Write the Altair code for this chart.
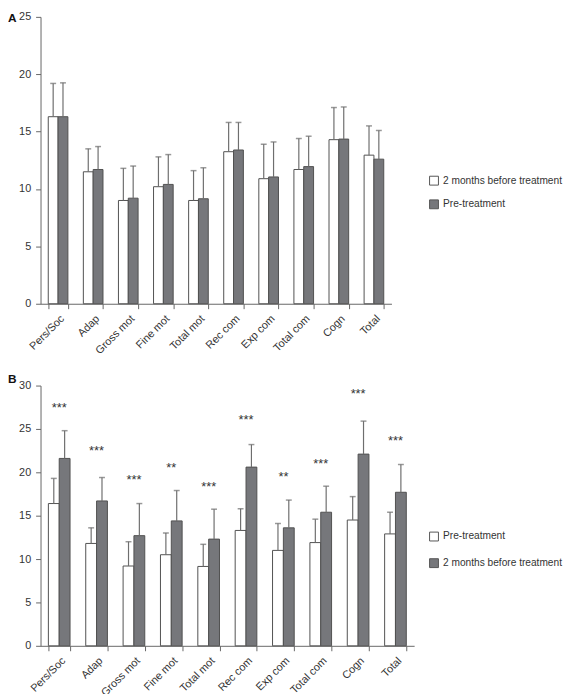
import altair as alt
import pandas as pd

categories = ["Pers/Soc", "Adap", "Gross mot", "Fine mot", "Total mot",
              "Rec com", "Exp com", "Total com", "Cogn", "Total"]

# Panel A
a_series = ["2 months before treatment", "Pre-treatment"]
a_first = [16.3, 11.5, 9.0, 10.2, 9.0, 13.25, 10.9, 11.7, 14.3, 12.95]
a_first_err = [19.2, 13.5, 11.8, 12.8, 11.6, 15.8, 13.9, 14.4, 17.1, 15.5]
a_second = [16.3, 11.7, 9.2, 10.4, 9.15, 13.4, 11.05, 11.95, 14.35, 12.6]
a_second_err = [19.25, 13.7, 12.0, 13.0, 11.85, 15.8, 14.1, 14.6, 17.15, 15.1]

# Panel B
b_series = ["Pre-treatment", "2 months before treatment"]
b_first = [16.4, 11.8, 9.2, 10.5, 9.15, 13.3, 11.0, 11.9, 14.5, 12.9]
b_first_err = [19.3, 13.6, 12.0, 13.0, 11.7, 15.8, 14.1, 14.6, 17.2, 15.4]
b_second = [21.6, 16.7, 12.7, 14.4, 12.3, 20.6, 13.6, 15.4, 22.1, 17.7]
b_second_err = [24.8, 19.4, 16.4, 17.9, 15.75, 23.2, 16.8, 18.4, 25.9, 20.9]
b_stars = ["***", "***", "***", "**", "***", "***", "**", "***", "***", "***"]
b_star_y = [27.7, 22.8, 19.5, 20.8, 18.6, 26.4, 19.8, 21.25, 29.4, 23.9]

FONT = "Liberation Sans"
fill_colors = ["#ffffff", "#76777b"]
ERR_COLOR = "#6e6e6e"


def build_long(series_names, v1, e1, v2, e2):
    rows = []
    for i, c in enumerate(categories):
        rows.append({"cat": c, "series": series_names[0], "pos": 0, "value": v1[i], "err": e1[i]})
        rows.append({"cat": c, "series": series_names[1], "pos": 1, "value": v2[i], "err": e2[i]})
    return pd.DataFrame(rows)


def panel(df, series_names, ymax, width, height, pad_inner, letter, letter_y,
          legend_y, row_pad, stars=None, star_y=None):
    xaxis = alt.Axis(labelAngle=315, labelAlign="right", labelBaseline="top",
                     tickBand="extent", title=None, labelPadding=4)
    x = alt.X("cat:N", sort=categories, title=None,
              scale=alt.Scale(paddingInner=pad_inner, paddingOuter=pad_inner / 2),
              axis=xaxis)
    xo = alt.XOffset("pos:O", scale=alt.Scale(paddingInner=0, paddingOuter=0))
    yscale = alt.Scale(domain=[0, ymax])
    yaxis = alt.Axis(values=list(range(0, ymax + 1, 5)), grid=False, title=None,
                     labelPadding=5)
    base = alt.Chart(df)
    bars = base.mark_bar(stroke="#505050", strokeWidth=1).encode(
        x=x, xOffset=xo,
        y=alt.Y("value:Q", scale=yscale, axis=yaxis, title=None),
        fill=alt.Fill("series:N", sort=series_names,
                      scale=alt.Scale(domain=series_names, range=fill_colors),
                      legend=alt.Legend(title=None, orient="none", legendX=394,
                                        legendY=legend_y, symbolType="square",
                                        symbolSize=81, symbolStrokeColor="#555555",
                                        symbolStrokeWidth=1, labelFontSize=10.3,
                                        labelColor="#333333", labelFont=FONT,
                                        rowPadding=row_pad, labelOffset=4,
                                        padding=0)),
    )
    rules = base.mark_rule(color=ERR_COLOR, strokeWidth=1.2).encode(
        x=x, xOffset=xo,
        y=alt.Y("value:Q", scale=yscale, axis=yaxis, title=None),
        y2="err:Q",
    )
    caps = base.mark_tick(color=ERR_COLOR, size=6, thickness=1.5,
                          orient="horizontal").encode(
        x=x, xOffset=xo,
        y=alt.Y("err:Q", scale=yscale, axis=yaxis, title=None),
    )
    layers = [bars, rules, caps]
    if stars is not None:
        sdf = pd.DataFrame({"cat": categories, "stars": stars, "star_y": star_y})
        st = alt.Chart(sdf).mark_text(font=FONT, fontSize=13, color="#333333",
                                      baseline="middle", dy=3).encode(
            x=x,
            y=alt.Y("star_y:Q", scale=yscale, axis=yaxis, title=None),
            text="stars:N",
        )
        layers.append(st)
    lab = alt.Chart(pd.DataFrame({"t": [letter]})).mark_text(
        font=FONT, fontSize=12, fontWeight="bold", align="left", baseline="top",
        color="#111111").encode(text="t:N", x=alt.value(-33), y=alt.value(letter_y))
    layers.append(lab)
    return alt.layer(*layers).properties(width=width, height=height)


dfa = build_long(a_series, a_first, a_first_err, a_second, a_second_err)
dfb = build_long(b_series, b_first, b_first_err, b_second, b_second_err)

pa = panel(dfa, a_series, 25, 356, 291, 0.44, "A", -4, 161, 10)
pb = panel(dfb, b_series, 30, 379, 264, 0.42, "B", -12, 148, 13,
           stars=b_stars, star_y=b_star_y)

chart = alt.vconcat(pa, pb, spacing=17).resolve_scale(
    fill="independent", xOffset="independent"
).properties(
    padding={"left": 0, "top": -2, "right": 0, "bottom": 0}
).configure_view(stroke=None).configure_axis(
    domainColor="#666666", tickColor="#666666", labelColor="#333333",
    labelFont=FONT, labelFontSize=11, tickSize=5, domainWidth=1, tickWidth=1,
).configure_text(font=FONT)

chart.save("out.html", embed_options={"renderer": "svg", "actions": False})
